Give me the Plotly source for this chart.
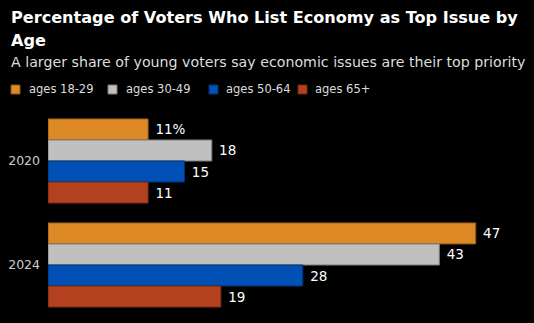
import plotly.graph_objects as go

years = ["2020", "2024"]
series_names = ["ages 18-29", "ages 30-49", "ages 50-64", "ages 65+"]
values_18_29 = [11, 47]
values_30_49 = [18, 43]
values_50_64 = [15, 28]
values_65p = [11, 19]

all_values = [values_18_29, values_30_49, values_50_64, values_65p]
colors = ["#DD8926", "#C0C0C0", "#0050B5", "#B3401F"]
edges = ["#8a5518", "#7a7a7a", "#00306e", "#6e2812"]

W, H = 534, 323
ML, MR, MT, MB = 48, 0, 109, 6
PW, PH = W - ML - MR, H - MT - MB

def px(x):
    return (x - ML) / PW

def py(y):
    return (H - MB - y) / PH

fig = go.Figure()
for i, (name, vals, c, e) in enumerate(zip(series_names, all_values, colors, edges)):
    texts = [" " + str(v) for v in vals]
    if i == 0:
        texts[0] = f" {vals[0]}%"
    fig.add_trace(go.Bar(
        y=years, x=vals, name=name, orientation="h",
        marker=dict(color=c, line=dict(color=e, width=1)),
        text=texts, textposition="outside", cliponaxis=False,
        textfont=dict(color="white", size=13.5, family="DejaVu Sans"),
        showlegend=False,
    ))

fig.update_layout(
    width=W, height=H,
    paper_bgcolor="black", plot_bgcolor="black",
    barmode="group", bargap=0.19, bargroupgap=0,
    margin=dict(l=ML, r=MR, t=MT, b=MB),
    font=dict(family="DejaVu Sans", color="#dddddd"),
)

# title lines
for txt, y in [("Percentage of Voters Who List Economy as Top Issue by", 17), ("Age", 40)]:
    fig.add_annotation(
        text=f"<b>{txt}</b>", xref="paper", yref="paper", x=px(9), y=py(y),
        xanchor="left", yanchor="middle", showarrow=False,
        font=dict(size=16.1, color="white", family="DejaVu Sans"),
    )
fig.add_annotation(
    text="A larger share of young voters say economic issues are their top priority",
    xref="paper", yref="paper", x=px(9), y=py(62), xanchor="left", yanchor="middle",
    showarrow=False, font=dict(size=14.2, color="#dddddd"),
)

# legend
sq_x = [11, 108, 209, 298]
tx_x = [26, 123, 223, 312]
for name, c, e, sx, tx in zip(series_names, colors, edges, sq_x, tx_x):
    fig.add_shape(type="rect", xref="paper", yref="paper",
                  x0=px(sx), x1=px(sx + 9), y0=py(94), y1=py(85),
                  fillcolor=c, line=dict(color=e, width=1))
    fig.add_annotation(text=name, xref="paper", yref="paper", x=px(tx + 1), y=py(89),
                       xanchor="left", yanchor="middle", showarrow=False,
                       font=dict(size=11.5, color="#dddddd"))

fig.update_xaxes(range=[0, 53.4], visible=False, showgrid=False)
fig.update_yaxes(autorange="reversed", showgrid=False, ticks="",
                 tickfont=dict(size=12.5, color="#cccccc"), ticklabelstandoff=7)

fig.write_html("out.html")
